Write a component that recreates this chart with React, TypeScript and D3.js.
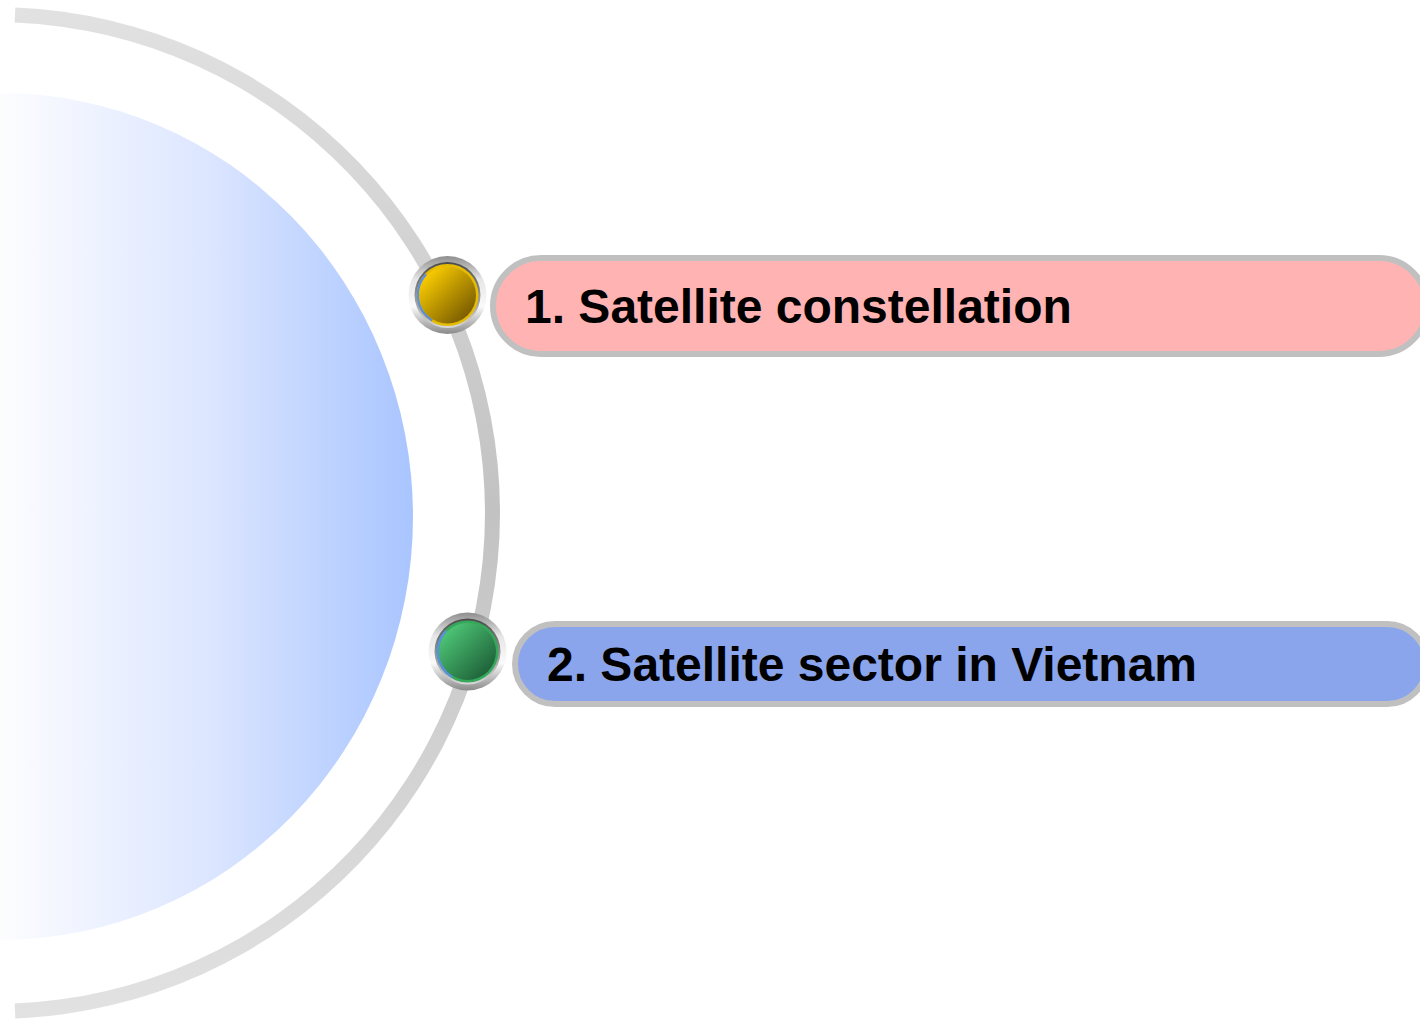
import React, { useEffect, useRef } from "react";
import * as d3 from "d3";

// content
const labels = ["1. Satellite constellation", "2. Satellite sector in Vietnam"];
const pillFills = ["#ffb3b3", "#8aa5ec"];
const bulletLight = ["#f7c900", "#4cc274"];
const bulletDark = ["#7d5f00", "#1f643a"];
const bulletRim = ["#e6bc00", "#35a85a"];

// layout (per row)
const rowLayout = [
  { x: 493, y: 258, h: 96, bx: 447.5, by: 295, tx: 525 },
  { x: 515, y: 624, h: 80, bx: 467.5, by: 651.5, tx: 547 },
];
const pillRight = 1427;

const W = 1420;
const H = 1019;

const App = () => {
  const ref = useRef(null);

  useEffect(() => {
    const svg = d3.select(ref.current);
    svg.selectAll("*").remove();

    const defs = svg.append("defs");

    const blue = defs.append("linearGradient").attr("id", "blueFill")
      .attr("gradientUnits", "userSpaceOnUse")
      .attr("x1", 0).attr("y1", 0).attr("x2", 413).attr("y2", 0);
    blue.append("stop").attr("offset", "0%").attr("stop-color", "#fdfdff");
    blue.append("stop").attr("offset", "50%").attr("stop-color", "#dce6ff");
    blue.append("stop").attr("offset", "100%").attr("stop-color", "#a9c5ff");

    // grey outer arc geometry
    const cx = -6, cy = 513, r = 498.5;

    const arcGrad = defs.append("linearGradient").attr("id", "arcFill")
      .attr("gradientUnits", "userSpaceOnUse")
      .attr("x1", 0).attr("y1", -cy).attr("x2", 0).attr("y2", H - cy);
    arcGrad.append("stop").attr("offset", "0%").attr("stop-color", "#e2e2e2");
    arcGrad.append("stop").attr("offset", "50%").attr("stop-color", "#c2c2c2");
    arcGrad.append("stop").attr("offset", "100%").attr("stop-color", "#e2e2e2");

    const metal = defs.append("linearGradient").attr("id", "metal")
      .attr("x1", 0).attr("y1", 0).attr("x2", 0).attr("y2", 1);
    metal.append("stop").attr("offset", "0%").attr("stop-color", "#8e8e8e");
    metal.append("stop").attr("offset", "30%").attr("stop-color", "#e6e6e6");
    metal.append("stop").attr("offset", "65%").attr("stop-color", "#fafafa");
    metal.append("stop").attr("offset", "100%").attr("stop-color", "#8a8a8a");

    const bevel = defs.append("linearGradient").attr("id", "bevel")
      .attr("x1", 0).attr("y1", 0).attr("x2", 0).attr("y2", 1);
    bevel.append("stop").attr("offset", "0%").attr("stop-color", "#4a4a4a");
    bevel.append("stop").attr("offset", "100%").attr("stop-color", "#d8d8d8");

    labels.forEach((_, i) => {
      const g = defs.append("linearGradient").attr("id", "ball" + i)
        .attr("x1", 0.15).attr("y1", 0.15).attr("x2", 0.85).attr("y2", 0.85);
      g.append("stop").attr("offset", "0%").attr("stop-color", bulletLight[i]);
      g.append("stop").attr("offset", "100%").attr("stop-color", bulletDark[i]);
    });

    // blue half disk
    svg.append("ellipse")
      .attr("cx", 0).attr("cy", 516.5)
      .attr("rx", 413).attr("ry", 423.5)
      .attr("fill", "url(#blueFill)");

    const a0 = Math.asin((15 - cx) / r);
    const ring = d3.arc()
      .innerRadius(r - 7.5)
      .outerRadius(r + 7.5)
      .startAngle(a0)
      .endAngle(Math.PI - a0);
    svg.append("path")
      .attr("transform", `translate(${cx},${cy})`)
      .attr("d", ring({}))
      .attr("fill", "url(#arcFill)");

    const rows = svg.selectAll("g.row").data(labels).enter()
      .append("g").attr("class", "row");

    // pills
    rows.append("rect")
      .attr("x", (d, i) => rowLayout[i].x)
      .attr("y", (d, i) => rowLayout[i].y)
      .attr("width", (d, i) => pillRight - rowLayout[i].x)
      .attr("height", (d, i) => rowLayout[i].h)
      .attr("rx", (d, i) => rowLayout[i].h / 2)
      .attr("fill", (d, i) => pillFills[i])
      .attr("stroke", "#c0c0c0")
      .attr("stroke-width", 6);

    rows.append("text")
      .attr("x", (d, i) => rowLayout[i].tx)
      .attr("y", (d, i) => rowLayout[i].y + rowLayout[i].h / 2 + 17)
      .attr("font-family", "'Liberation Sans', Arial, sans-serif")
      .attr("font-weight", "bold")
      .attr("font-size", 48)
      .attr("fill", "#000")
      .text(d => d);

    // bullets
    const bullets = rows.append("g")
      .attr("transform", (d, i) => `translate(${rowLayout[i].bx},${rowLayout[i].by})`);
    bullets.append("circle").attr("r", 39).attr("fill", "url(#metal)");
    bullets.append("circle").attr("r", 33).attr("fill", "url(#bevel)");
    bullets.append("circle").attr("r", 31).attr("fill", (d, i) => bulletRim[i]);
    bullets.append("path")
      .attr("d", d3.arc().innerRadius(28.5).outerRadius(31).startAngle(-2.6).endAngle(-0.8)({}))
      .attr("fill", "#5b8fe0");
    bullets.append("circle").attr("r", 28.5).attr("fill", (d, i) => `url(#ball${i})`);
  }, []);

  return (
    <svg
      ref={ref}
      width={W}
      height={H}
      style={{ position: "absolute", left: 0, top: 0, display: "block", background: "#fff" }}
    />
  );
};

export default App;
